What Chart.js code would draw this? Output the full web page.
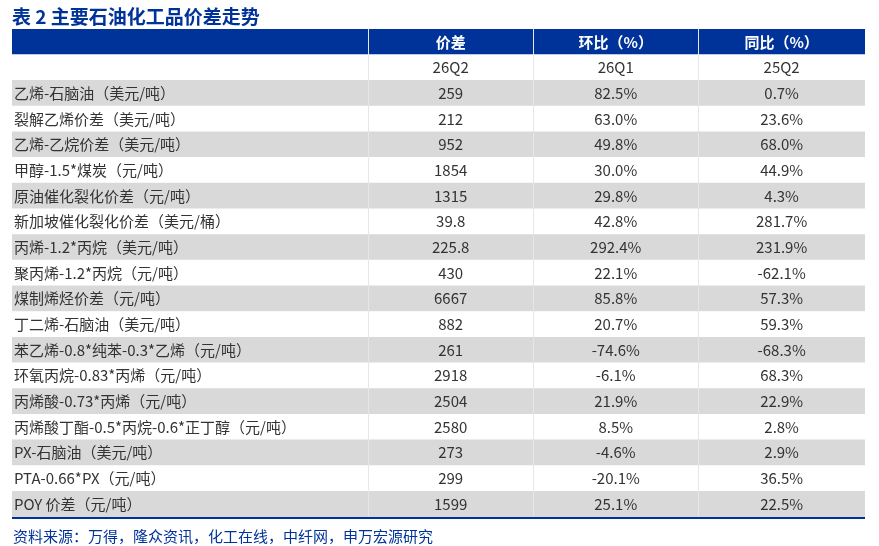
<!DOCTYPE html>
<html>
<head>
<meta charset="utf-8">
<script src="https://cdn.jsdelivr.net/npm/chart.js@4.4.0/dist/chart.umd.min.js"></script>
<style>
  body { margin: 0; background: #fff; }
  #wrap { position: relative; width: 879px; height: 546px; }
</style>
</head>
<body>
<div id="wrap"><canvas id="tbl"></canvas></div>
<script>
// Table data
const title = '表 2 主要石油化工品价差走势';
const source = '资料来源：万得，隆众资讯，化工在线，中纤网，申万宏源研究';
const headers = ['', '价差', '环比（%）', '同比（%）'];
const subHeaders = ['', '26Q2', '26Q1', '25Q2'];
const products = [
  '乙烯-石脑油（美元/吨）', '裂解乙烯价差（美元/吨）', '乙烯-乙烷价差（美元/吨）', '甲醇-1.5*煤炭（元/吨）',
  '原油催化裂化价差（元/吨）', '新加坡催化裂化价差（美元/桶）', '丙烯-1.2*丙烷（美元/吨）', '聚丙烯-1.2*丙烷（元/吨）',
  '煤制烯烃价差（元/吨）', '丁二烯-石脑油（美元/吨）', '苯乙烯-0.8*纯苯-0.3*乙烯（元/吨）', '环氧丙烷-0.83*丙烯（元/吨）',
  '丙烯酸-0.73*丙烯（元/吨）', '丙烯酸丁酯-0.5*丙烷-0.6*正丁醇（元/吨）', 'PX-石脑油（美元/吨）', 'PTA-0.66*PX（元/吨）',
  'POY 价差（元/吨）'
];
const spread = ['259', '212', '952', '1854', '1315', '39.8', '225.8', '430', '6667', '882', '261', '2918', '2504', '2580', '273', '299', '1599'];
const qoq = ['82.5%', '63.0%', '49.8%', '30.0%', '29.8%', '42.8%', '292.4%', '22.1%', '85.8%', '20.7%', '-74.6%', '-6.1%', '21.9%', '8.5%', '-4.6%', '-20.1%', '25.1%'];
const yoy = ['0.7%', '23.6%', '68.0%', '44.9%', '4.3%', '281.7%', '231.9%', '-62.1%', '57.3%', '59.3%', '-68.3%', '68.3%', '22.9%', '2.8%', '2.9%', '36.5%', '22.5%'];

const blue = '#003399';
const gray = '#d9d9d9';
const font = '"Noto Sans CJK SC", "Noto Sans", sans-serif';
// column edges as fraction of table width
const colEdges = [0, 0.4175, 0.611, 0.8045, 1];

const rowLabels = ['hdr', 'sub'].concat(products);
const stripeColors = rowLabels.map((r, i) => i === 0 ? blue : (i >= 2 && (i - 2) % 2 === 0 ? gray : '#ffffff'));
const stripeValues = rowLabels.map(() => 1);

const tablePlugin = {
  id: 'tableText',
  afterDatasetsDraw(chart) {
    const { ctx, scales: { x, y }, chartArea } = chart;
    const colX = colEdges.map(f => x.getPixelForValue(f));
    ctx.save();
    // column separators
    ctx.strokeStyle = '#e6e6e6';
    ctx.lineWidth = 1;
    for (let c = 1; c < 4; c++) {
      ctx.beginPath();
      ctx.moveTo(Math.round(colX[c]) + 0.5, chartArea.top);
      ctx.lineTo(Math.round(colX[c]) + 0.5, chartArea.bottom);
      ctx.stroke();
    }
    ctx.textBaseline = 'middle';
    const rows = [headers, subHeaders].concat(products.map((p, i) => [p, spread[i], qoq[i], yoy[i]]));
    rows.forEach((row, r) => {
      const py = y.getPixelForValue(r);
      row.forEach((txt, c) => {
        if (!txt) return;
        if (r === 0) {
          ctx.fillStyle = '#ffffff';
          ctx.font = 'bold 15px ' + font;
        } else {
          ctx.fillStyle = '#333333';
          ctx.font = '15px ' + font;
        }
        if (c === 0) {
          ctx.textAlign = 'left';
          ctx.fillText(txt, colX[0] + 2, py);
        } else {
          ctx.textAlign = 'center';
          ctx.fillText(txt, (colX[c] + colX[c + 1]) / 2, py);
        }
      });
    });
    // bottom rule
    ctx.strokeStyle = blue;
    ctx.lineWidth = 2;
    ctx.beginPath();
    ctx.moveTo(chartArea.left, chartArea.bottom + 1);
    ctx.lineTo(chartArea.right, chartArea.bottom + 1);
    ctx.stroke();
    // title and source
    ctx.textAlign = 'left';
    ctx.fillStyle = blue;
    ctx.font = 'bold 19px ' + font;
    ctx.fillText(title, 12, 17);
    ctx.font = '15px ' + font;
    ctx.fillText(source, 13, 536);
    ctx.restore();
  }
};

new Chart(document.getElementById('tbl'), {
  type: 'bar',
  data: {
    labels: rowLabels,
    datasets: [{
      data: stripeValues,
      backgroundColor: stripeColors,
      barPercentage: 1,
      categoryPercentage: 1,
      borderWidth: 0
    }]
  },
  options: {
    indexAxis: 'y',
    responsive: true,
    maintainAspectRatio: false,
    animation: false,
    layout: { padding: { left: 12, right: 14, top: 29, bottom: 29 } },
    plugins: { legend: { display: false }, tooltip: { enabled: false } },
    scales: {
      x: { type: 'linear', min: 0, max: 1, display: false },
      y: { display: false }
    }
  },
  plugins: [tablePlugin]
});
</script>
</body>
</html>
